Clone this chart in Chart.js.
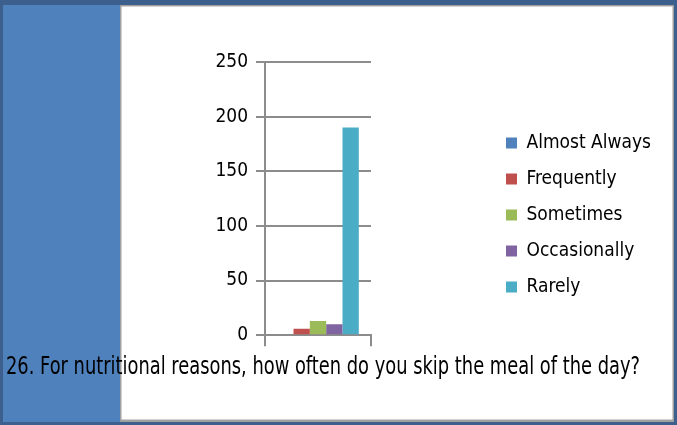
<!DOCTYPE html>
<html>
<head>
<meta charset="utf-8">
<script src="https://cdn.jsdelivr.net/npm/chart.js@4/dist/chart.umd.min.js"></script>
<style>
  html, body { margin: 0; padding: 0; background: #ffffff; }
  canvas { display: block; }
</style>
</head>
<body>
<canvas id="chart" width="677" height="425"></canvas>
<script>
// Survey question shown under the plot
const questionTitle = '26. For nutritional reasons, how often do you skip the meal of the day?';

// One category group on the x axis
const categories = ['Responses'];

// Answer options and number of respondents for each
const answers = ['Almost Always', 'Frequently', 'Sometimes', 'Occasionally', 'Rarely'];
const counts = [0, 6, 13, 10, 190];
const answerColors = ['#4F81BD', '#C0504D', '#9BBB59', '#8064A2', '#4BACC6'];

// Value axis ticks
const yTicks = [0, 50, 100, 150, 200, 250];

const FONT = "'Liberation Sans Narrow', 'DejaVu Sans Condensed', 'Arial Narrow', sans-serif";
const AXIS_GREY = '#8C8C8C';

// Framed slide-style background: dark rim, blue side strip, white panel
const framePlugin = {
  id: 'frame',
  beforeDraw(chart) {
    const { ctx, width, height } = chart;
    ctx.save();
    ctx.fillStyle = '#3C5F8D';
    ctx.fillRect(0, 0, width, height);
    ctx.fillStyle = '#4F81BD';
    ctx.fillRect(3, 5, 120, height - 8);
    ctx.fillStyle = '#A0A0A0';
    ctx.fillRect(120, 5, width - 123, height - 8);
    ctx.fillStyle = '#FFFFFF';
    ctx.fillRect(121.5, 6.5, width - 126, height - 12);
    ctx.restore();
  }
};

// Place the legend block to the right of the plot
const legendPlacement = {
  id: 'legendPlacement',
  afterLayout(chart) {
    const lg = chart.legend;
    if (!lg) return;
    lg.left = 489;
    lg.right = 672;
    lg.top = 116.5;
    lg.bottom = 400;
    lg.width = lg.right - lg.left;
    lg.height = lg.bottom - lg.top;
  }
};

const datasets = answers.map((name, i) => ({
  label: name,
  data: [counts[i]],
  backgroundColor: answerColors[i],
  borderWidth: 0,
  categoryPercentage: 0.77,
  barPercentage: 1.0
}));

new Chart(document.getElementById('chart'), {
  type: 'bar',
  data: { labels: categories, datasets },
  plugins: [framePlugin, legendPlacement],
  options: {
    responsive: false,
    animation: false,
    devicePixelRatio: 1,
    // right padding also bounds the title line width
    layout: { padding: { left: 6, right: 37, top: 62, bottom: 43 } },
    plugins: {
      tooltip: { enabled: false },
      legend: {
        position: 'chartArea',
        align: 'start',
        labels: {
          boxWidth: 11,
          boxHeight: 11,
          padding: 17,
          color: '#000000',
          font: { family: FONT, size: 19 }
        }
      },
      title: {
        display: true,
        text: questionTitle,
        position: 'bottom',
        align: 'start',
        color: '#000000',
        padding: { top: 7, bottom: 0 },
        font: { family: FONT, size: 24, weight: 'normal', lineHeight: 1.2 }
      }
    },
    scales: {
      x: {
        type: 'category',
        offset: true,
        grid: {
          offset: true,
          drawOnChartArea: false,
          drawTicks: true,
          tickLength: 11,
          color: AXIS_GREY,
          lineWidth: 2
        },
        border: { display: true, color: AXIS_GREY, width: 2 },
        ticks: { display: false }
      },
      y: {
        type: 'linear',
        position: 'left',
        min: yTicks[0],
        max: yTicks[yTicks.length - 1],
        afterFit(scale) { scale.width = 259; },
        afterBuildTicks(scale) { scale.ticks = yTicks.map(v => ({ value: v })); },
        grid: {
          drawTicks: true,
          tickLength: 9,
          color: AXIS_GREY,
          lineWidth: 2
        },
        border: { display: true, color: AXIS_GREY, width: 2 },
        ticks: {
          color: '#000000',
          padding: 8,
          font: { family: FONT, size: 19 }
        }
      },
      spacer: {
        type: 'linear',
        position: 'right',
        display: true,
        afterFit(scale) { scale.width = 269; },
        grid: { display: false },
        border: { display: false },
        ticks: { display: false }
      }
    }
  }
});
</script>
</body>
</html>
